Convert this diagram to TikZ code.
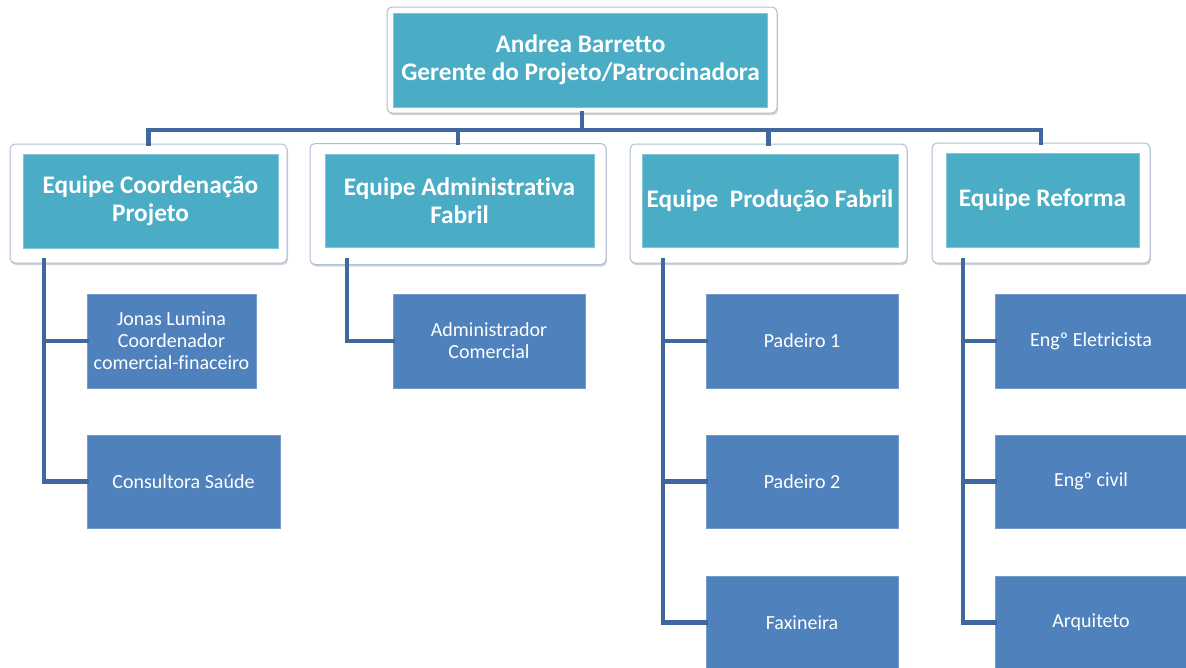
\documentclass[tikz,border=0pt]{standalone}
\usepackage{fontspec}
\setmainfont{Carlito}[Ligatures=NoCommon]
\usetikzlibrary{shadows,calc}
\definecolor{teal}{HTML}{4BACC6}
\definecolor{child}{HTML}{4F81BD}
\definecolor{connc}{HTML}{41689C}
\definecolor{framec}{HTML}{AFC0D6}
\begin{document}
\begin{tikzpicture}[x=1pt,y=-1pt,
  frame/.style={draw=framec, line width=1pt, fill=white, rounded corners=5pt,
    drop shadow={opacity=0.35, shadow xshift=1pt, shadow yshift=-2pt}, inner sep=0pt},
  teambox/.style={fill=teal, draw=teal!70!white, line width=0.6pt, text=white, align=center,
    font=\fontsize{25.3}{28}\selectfont\bfseries, inner sep=0pt},
  childbox/.style={fill=child, draw=child!80!white, line width=0.5pt, text=white, align=center,
    font=\fontsize{20}{22}\selectfont, inner sep=0pt, minimum height=94},
  conn/.style={draw=connc, line width=4.5pt, line cap=rect}
]
\useasboundingbox (0,0) rectangle (1186,667);

% top
\node[frame, minimum width=390, minimum height=106] (topf) at (582,60) {};
\node[teambox, minimum width=374, minimum height=94] (top) at (580.5,60) {Andrea Barretto\\Gerente do Projeto/Patrocinadora};

% teams frames
\node[frame, minimum width=277, minimum height=119] (t1f) at (148.5,203.5) {};
\node[frame, minimum width=296, minimum height=121] (t2f) at (458,204) {};
\node[frame, minimum width=277, minimum height=119] (t3f) at (768.5,203.5) {};
\node[frame, minimum width=218, minimum height=120] (t4f) at (1041,203) {};

\coordinate (bar) at (0,130);

% connectors top
\draw[conn] (topf.south) -- (topf.south |- bar);
\draw[conn] (t1f.north) -- (t1f.north |- bar) -- (t4f.north |- bar) -- (t4f.north);
\draw[conn] (t2f.north) -- (t2f.north |- bar);
\draw[conn] (t3f.north) -- (t3f.north |- bar);

% team boxes
\node[teambox, minimum width=255, minimum height=94] (t1) at (150.5,201) {Equipe Coordenação\\Projeto};
\node[teambox, minimum width=269, minimum height=93] (t2) at (459.5,200.5) {Equipe Administrativa\\Fabril};
\node[teambox, minimum width=256, minimum height=93] (t3) at (770,200.5) {Equipe\ \ Produção Fabril};
\node[teambox, minimum width=193, minimum height=94] (t4) at (1042.5,200) {Equipe Reforma};

% children
\node[childbox, minimum width=169] (c11) at (171.5,341) {Jonas Lumina\\Coordenador\\comercial-finaceiro};
\node[childbox, minimum width=193, minimum height=93] (c12) at (183.5,481.5) {Consultora Saúde};
\node[childbox, minimum width=192] (c21) at (489,341) {Administrador\\Comercial};
\node[childbox, minimum width=192] (c31) at (802,341) {Padeiro 1};
\node[childbox, minimum width=192, minimum height=93] (c32) at (802,481.5) {Padeiro 2};
\node[childbox, minimum width=192, minimum height=93] (c33) at (802,622.5) {Faxineira};
\node[childbox, minimum width=192] (c41) at (1091,341) {Engº Eletricista};
\node[childbox, minimum width=192, minimum height=93] (c42) at (1091,481.5) {Engº civil};
\node[childbox, minimum width=192, minimum height=93] (c43) at (1091,622.5) {Arquiteto};

% child connectors
\coordinate (s1) at (44,260);
\coordinate (s2) at (347,260);
\coordinate (s3) at (663,260);
\coordinate (s4) at (963,260);
\draw[conn] (s1) |- (c12.west);
\draw[conn] (s1 |- c11.west) -- (c11.west);
\draw[conn] (s2) |- (c21.west);
\draw[conn] (s3) |- (c33.west);
\draw[conn] (s3 |- c31.west) -- (c31.west);
\draw[conn] (s3 |- c32.west) -- (c32.west);
\draw[conn] (s4) |- (c43.west);
\draw[conn] (s4 |- c41.west) -- (c41.west);
\draw[conn] (s4 |- c42.west) -- (c42.west);
\end{tikzpicture}
\end{document}
